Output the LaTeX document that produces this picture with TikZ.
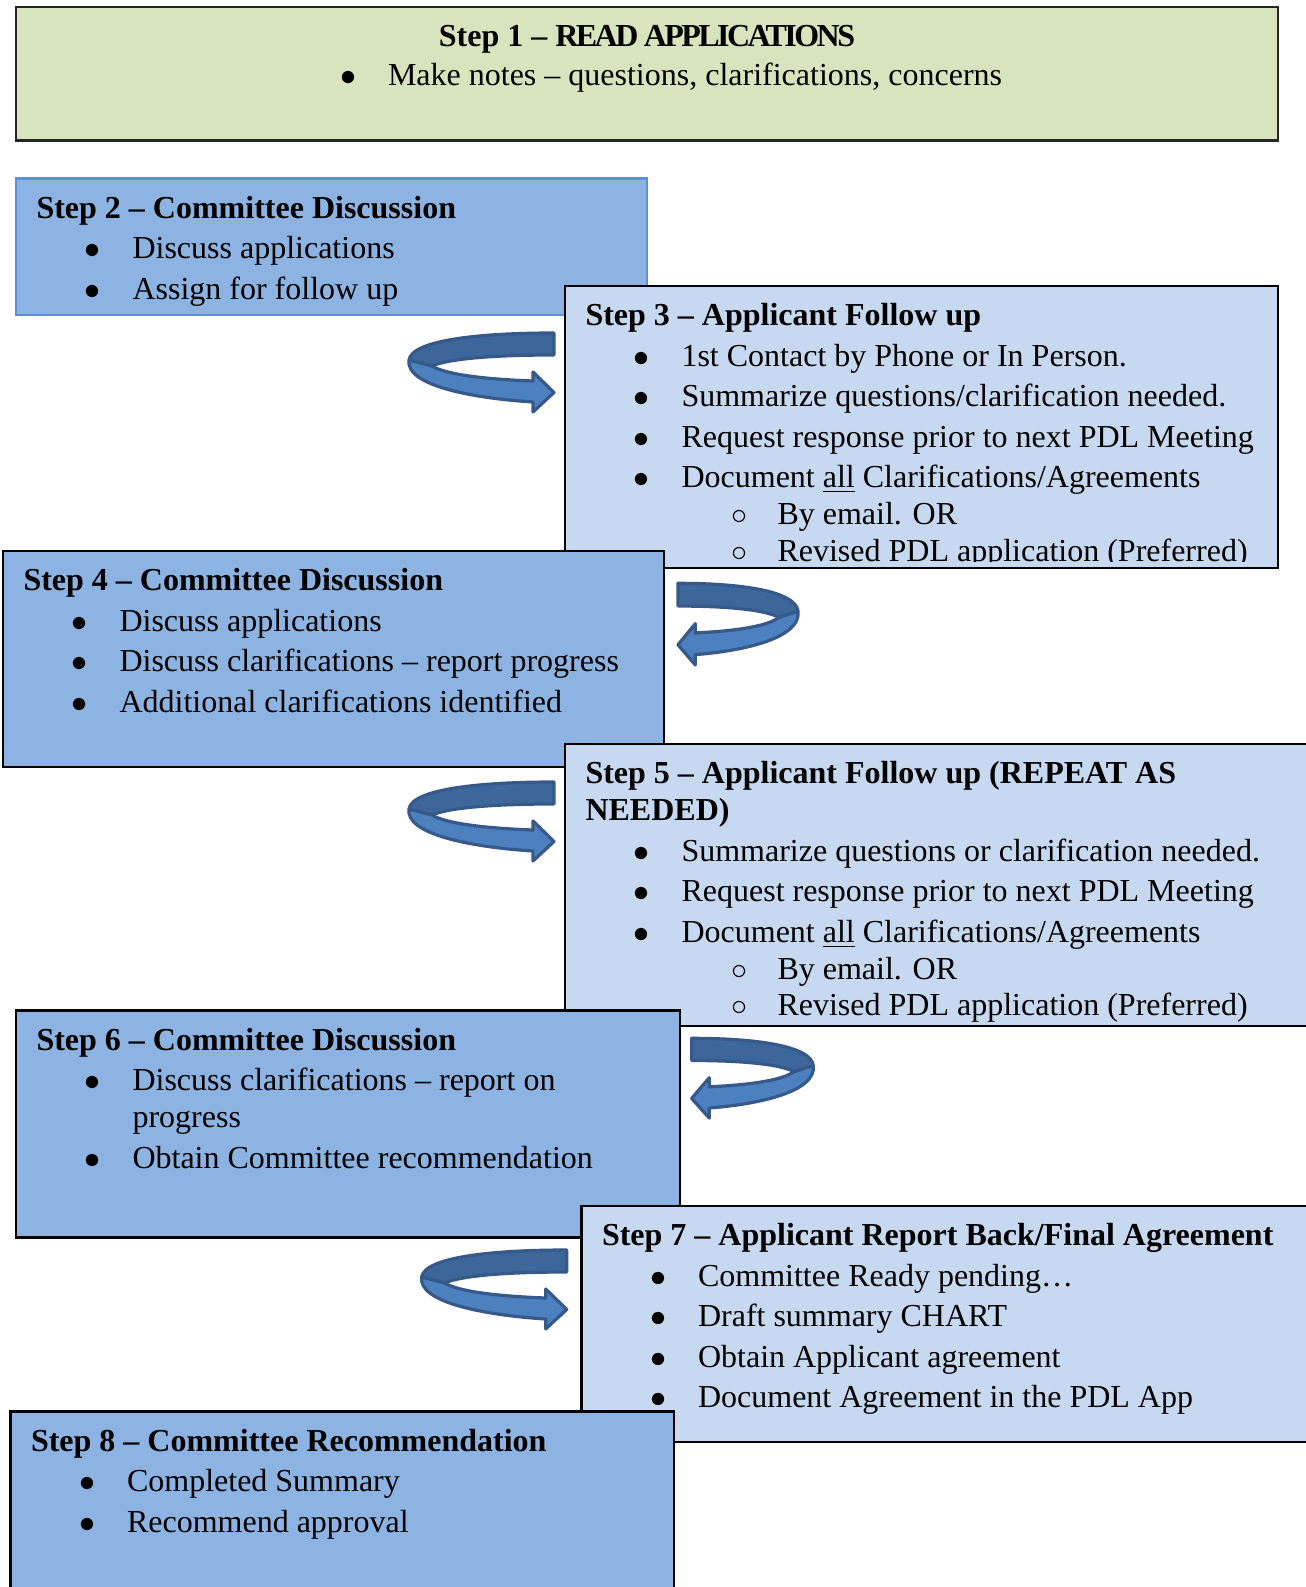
\documentclass[tikz,border=0pt]{standalone}
\usepackage{fontspec}
\setmainfont{Liberation Serif}
\setmonofont{Liberation Mono}
\usetikzlibrary{calc,fit}

\definecolor{readfill}{HTML}{D7E4BD}
\definecolor{darkfill}{HTML}{8DB3E2}
\definecolor{lightfill}{HTML}{C6D9F1}
\definecolor{paleedge}{HTML}{5B8FD6}
\definecolor{turnfront}{HTML}{4C80BE}
\definecolor{turnback}{HTML}{3D679B}
\definecolor{turnedge}{HTML}{36598A}

% text lines inside the boxes
\newcommand{\stephead}[1]{\rule{0pt}{10.5pt}\textbf{#1}}
\newcommand{\stepitem}[1]{\hspace*{18pt}\makebox[18pt][l]{$\bullet$}#1}
\newcommand{\stepsub}[1]{\hspace*{54.75pt}\makebox[17.25pt][l]{$\circ$}#1}

% u-turn ribbon arrow (drawn pointing right, curl on the left)
\newcommand{\uturn}[1]{%
  \begin{scope}[#1]
    \draw[turnedge, line width=1.2pt, line join=round, fill=turnback]
      (145,0) .. controls (71,0) and (3,7) .. (0,27)
      -- (23,33) .. controls (41,25) and (91,22) .. (145,22) -- cycle;
    \draw[turnedge, line width=1.2pt, line join=round, fill=turnfront]
      (0,27) .. controls (-4,52) and (61,65) .. (124,69) -- (124,79)
      -- (145,59.5) -- (124,39) -- (124,48)
      .. controls (71,46) and (36,41) .. (23,33) -- cycle;
  \end{scope}}

\begin{document}
\begin{tikzpicture}[
  x=0.375pt, y=-0.375pt,
  stepbox/.style={draw=black, line width=0.8pt, inner sep=0pt, outer sep=0pt},
  darkstep/.style={stepbox, fill=darkfill},
  lightstep/.style={stepbox, fill=lightfill},
  steptext/.style={anchor=north west, inner sep=0pt, align=left,
    font=\fontsize{12}{13.85}\selectfont},
]
  \useasboundingbox (0,0) rectangle (1305,1587);

  % Step 1
  \node[stepbox, draw=black!85, fill=readfill, fit={(16,7) (1278,140.5)}] (s1) {};
  \node[anchor=base, inner sep=0pt, font=\fontsize{12}{13.85}\selectfont\bfseries]
    (t1) at (647,46.7) {Step 1 -- {\addfontfeature{LetterSpace=-8}READ APPLICATIONS}};
  \node[anchor=base west, inner sep=0pt, font=\fontsize{12}{13.85}\selectfont]
    (t1b) at (339.5,86) {\makebox[18pt][l]{$\bullet$}Make notes -- questions, clarifications, concerns};

  % Step 2
  \node[darkstep, draw=paleedge, fit={(16,178.5) (647,315)}] (s2) {};
  \node[steptext] (t2) at ($(s2.north west)+(20,11)$) {%
    \stephead{Step 2 -- Committee Discussion}\\[1.35pt]
    \stepitem{Discuss applications}\\[1.35pt]
    \stepitem{Assign for follow up}};

  % Step 3
  \node[lightstep, fit={(565,286) (1278,568)}] (s3) {};
  \begin{scope}
    \clip (s3.north west) rectangle ($(s3.south east)+(0,-7)$);
    \node[steptext] (t3) at ($(s3.north west)+(20,11)$) {%
      \stephead{Step 3 -- Applicant Follow up}\\[1.35pt]
      \stepitem{1st Contact by Phone or In Person.}\\[1.35pt]
      \stepitem{Summarize questions/clarification needed.}\\[1.35pt]
      \stepitem{Request response prior to next PDL Meeting}\\[1.35pt]
      \stepitem{Document \underline{all} Clarifications/Agreements}\\
      \stepsub{By email. OR}\\
      \stepsub{Revised PDL application (Preferred)}};
  \end{scope}
  \uturn{shift={(409,333)}}

  % Step 4
  \node[darkstep, fit={(3,551) (664,767)}] (s4) {};
  \node[steptext] (t4) at ($(s4.north west)+(20,11)$) {%
    \stephead{Step 4 -- Committee Discussion}\\[1.35pt]
    \stepitem{Discuss applications}\\[1.35pt]
    \stepitem{Discuss clarifications -- report progress}\\[1.35pt]
    \stepitem{Additional clarifications identified}};
  \uturn{shift={(798,583.3)}, xscale=-0.828, yscale=1.034}

  % Step 5
  \node[lightstep, fit={(565,744) (1320,1026)}] (s5) {};
  \node[steptext] (t5) at ($(s5.north west)+(20,11)$) {%
    \stephead{Step 5 -- Applicant Follow up (REPEAT AS}\\
    \textbf{NEEDED)}\\[1.35pt]
    \stepitem{Summarize questions or clarification needed.}\\[1.35pt]
    \stepitem{Request response prior to next PDL Meeting}\\[1.35pt]
    \stepitem{Document \underline{all} Clarifications/Agreements}\\
    \stepsub{By email. OR}\\
    \stepsub{Revised PDL application (Preferred)}};
  \uturn{shift={(409,782)}}

  % Step 6
  \node[darkstep, fit={(16,1010.5) (680,1237.5)}] (s6) {};
  \node[steptext] (t6) at ($(s6.north west)+(20,11)$) {%
    \stephead{Step 6 -- Committee Discussion}\\[1.35pt]
    \stepitem{Discuss clarifications -- report on}\\
    \hspace*{36pt}progress\\[1.35pt]
    \stepitem{Obtain Committee recommendation}};
  \uturn{shift={(813.3,1038.3)}, xscale=-0.839, yscale=1.01}

  % Step 7
  \node[lightstep, fit={(581.5,1206) (1320,1442)}] (s7) {};
  \node[steptext] (t7) at ($(s7.north west)+(20,11)$) {%
    \stephead{Step 7 -- Applicant Report Back/Final Agreement}\\[1.35pt]
    \stepitem{Committee Ready pending…}\\[1.35pt]
    \stepitem{Draft summary CHART}\\[1.35pt]
    \stepitem{Obtain Applicant agreement}\\[1.35pt]
    \stepitem{Document Agreement in the PDL App}};
  \uturn{shift={(421.7,1250)}}

  % Step 8
  \node[darkstep, fit={(10.5,1411.5) (674,1600)}] (s8) {};
  \node[steptext] (t8) at ($(s8.north west)+(20,11)$) {%
    \stephead{Step 8 -- Committee Recommendation}\\[1.35pt]
    \stepitem{Completed Summary}\\[1.35pt]
    \stepitem{Recommend approval}};
\end{tikzpicture}
\end{document}
